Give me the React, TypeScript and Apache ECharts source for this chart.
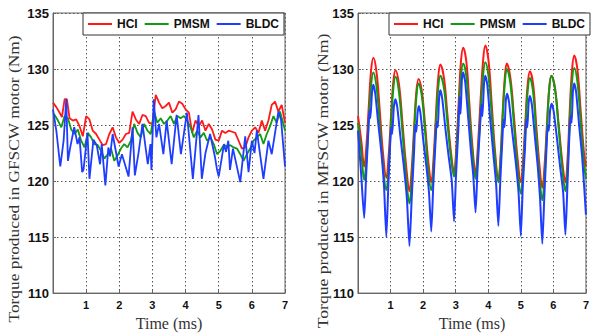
import React, { useEffect, useRef } from "react";
import * as echarts from "echarts";

// ---------- data (time in ms, torque in Nm) ----------
const seriesNames = ["HCI", "PMSM", "BLDC"];
const seriesColors = ["#ff1a1a", "#139a13", "#1f3dff"];
const yTicks = { min: 110, max: 135, step: 5 };
const xTicks = { min: 0, max: 7, step: 1 };
const leftTitle = "Torque produced in GFSCW motor (Nm)";
const rightTitle = "Torque produced in MFSCW motor (Nm)";
const xTitle = "Time (ms)";

const gfscwHCI: number[][] = [
  [0, 127.0], [0.1, 126.6], [0.2, 126.1], [0.27, 125.7], [0.35, 127.3], [0.42, 127.3], [0.5, 125.6],
  [0.6, 125.4], [0.7, 125.5], [0.8, 124.9], [0.9, 124.0], [1.0, 125.8], [1.1, 125.5], [1.2, 124.5],
  [1.3, 124.2], [1.4, 123.7], [1.5, 123.2], [1.6, 123.3], [1.7, 124.2], [1.8, 124.8], [1.9, 123.9],
  [2.0, 123.4], [2.1, 123.7], [2.2, 124.2], [2.3, 124.3], [2.4, 126.2], [2.5, 125.5], [2.6, 125.1],
  [2.7, 125.9], [2.8, 125.8], [2.9, 125.2], [3.0, 125.1], [3.1, 127.7], [3.2, 127.0], [3.3, 126.5],
  [3.4, 126.7], [3.5, 127.0], [3.6, 126.1], [3.7, 126.4], [3.8, 127.1], [3.9, 126.9], [4.0, 126.4],
  [4.1, 126.1], [4.2, 124.3], [4.3, 125.4], [4.4, 124.9], [4.5, 125.4], [4.6, 124.5], [4.7, 125.1],
  [4.8, 124.6], [4.9, 123.7], [5.0, 123.6], [5.1, 124.5], [5.2, 124.3], [5.3, 124.5], [5.4, 124.4],
  [5.5, 124.3], [5.6, 123.6], [5.7, 122.9], [5.8, 123.0], [5.9, 123.9], [6.0, 124.5], [6.1, 124.8],
  [6.2, 124.3], [6.3, 125.4], [6.4, 124.5], [6.5, 125.4], [6.6, 126.8], [6.7, 127.1], [6.8, 126.2],
  [6.9, 126.8], [7.0, 125.2],
];

const gfscwPMSM: number[][] = [
  [0, 126.0], [0.05, 125.9], [0.15, 125.4], [0.25, 124.8], [0.35, 125.8], [0.45, 125.6], [0.55, 124.6],
  [0.65, 124.2], [0.75, 124.6], [0.85, 123.6], [0.95, 123.0], [1.05, 124.3], [1.15, 123.9], [1.25, 123.3],
  [1.35, 123.2], [1.45, 122.7], [1.55, 122.0], [1.65, 122.4], [1.75, 122.9], [1.85, 121.8], [1.95, 122.3],
  [2.05, 122.9], [2.15, 123.3], [2.25, 123.0], [2.35, 123.6], [2.45, 125.1], [2.55, 124.3], [2.65, 123.9],
  [2.75, 125.1], [2.85, 124.5], [2.95, 124.2], [3.05, 126.2], [3.15, 125.2], [3.25, 125.6], [3.35, 125.1],
  [3.45, 125.4], [3.55, 125.8], [3.65, 125.1], [3.75, 125.8], [3.85, 125.6], [3.95, 125.8], [4.05, 125.4],
  [4.15, 124.8], [4.25, 123.9], [4.35, 124.5], [4.45, 123.9], [4.55, 124.3], [4.65, 123.6], [4.75, 123.9],
  [4.85, 123.3], [4.95, 122.4], [5.05, 122.7], [5.15, 123.2], [5.25, 123.1], [5.35, 123.2], [5.45, 123.0],
  [5.55, 122.9], [5.65, 122.4], [5.75, 121.8], [5.85, 122.4], [5.95, 122.9], [6.05, 123.6], [6.15, 123.9],
  [6.25, 124.2], [6.35, 123.3], [6.45, 124.2], [6.55, 124.9], [6.65, 125.8], [6.75, 125.2], [6.85, 126.2],
  [6.95, 125.1], [7.0, 124.5],
];

const gfscwBLDC: number[][] = [
  [0, 126.4], [0.1, 124.5], [0.22, 121.3], [0.32, 123.6], [0.4, 127.3], [0.45, 121.8], [0.52, 123.0],
  [0.64, 124.8], [0.74, 123.3], [0.8, 123.9], [0.88, 120.8], [0.92, 121.0], [1.04, 124.3], [1.1, 120.2],
  [1.22, 123.7], [1.32, 123.2], [1.42, 121.5], [1.47, 123.3], [1.58, 119.6], [1.67, 123.0], [1.72, 122.2],
  [1.8, 124.2], [1.98, 121.3], [2.08, 122.4], [2.28, 120.4], [2.4, 124.8], [2.47, 120.5], [2.58, 122.5],
  [2.7, 125.1], [2.86, 121.5], [2.94, 123.3], [2.97, 121.0], [3.04, 127.3], [3.12, 123.9], [3.2, 125.1],
  [3.33, 122.4], [3.43, 125.4], [3.58, 121.5], [3.73, 125.9], [3.86, 122.4], [4.04, 126.1], [4.22, 120.2],
  [4.39, 125.9], [4.49, 120.2], [4.6, 122.5], [4.74, 124.2], [4.89, 122.1], [4.95, 121.0], [5.0, 120.4],
  [5.16, 123.3], [5.22, 122.6], [5.29, 123.6], [5.34, 121.0], [5.43, 122.9], [5.65, 119.9], [5.8, 124.0],
  [5.9, 120.8], [6.0, 123.6], [6.08, 122.5], [6.15, 124.5], [6.35, 120.2], [6.5, 123.6], [6.6, 122.4],
  [6.8, 126.2], [6.88, 125.5], [7.0, 121.3],
];

const mfscwHCI: number[][] = [
  [0, 125.8], [0.1, 123.6], [0.19, 121.3], [0.26, 123.2], [0.33, 126.6], [0.4, 129.8], [0.47, 131.0],
  [0.57, 129.7], [0.67, 126.2], [0.77, 122.4], [0.87, 120.3], [0.94, 122.2], [1.01, 125.6], [1.08, 128.7],
  [1.15, 129.9], [1.26, 128.6], [1.37, 125.0], [1.48, 121.3], [1.58, 119.1], [1.65, 121.1], [1.72, 124.6],
  [1.79, 127.9], [1.86, 129.1], [1.96, 128.0], [2.06, 125.0], [2.16, 121.7], [2.25, 119.9], [2.32, 122.0],
  [2.39, 125.7], [2.46, 129.1], [2.53, 130.4], [2.64, 129.2], [2.74, 126.1], [2.85, 122.7], [2.95, 120.8],
  [3.02, 123.0], [3.09, 126.9], [3.16, 130.6], [3.23, 131.9], [3.33, 130.6], [3.42, 126.9], [3.52, 122.9],
  [3.61, 120.7], [3.68, 123.0], [3.76, 127.0], [3.84, 130.7], [3.91, 132.1], [4.01, 130.7], [4.11, 126.7],
  [4.21, 122.6], [4.31, 120.2], [4.38, 122.3], [4.44, 125.9], [4.51, 129.3], [4.57, 130.5], [4.68, 129.2],
  [4.79, 125.7], [4.9, 122.0], [5.0, 119.9], [5.07, 121.9], [5.14, 125.3], [5.21, 128.6], [5.28, 129.8],
  [5.38, 128.6], [5.47, 125.1], [5.57, 121.5], [5.66, 119.4], [5.73, 121.4], [5.8, 124.9], [5.87, 128.2],
  [5.94, 129.4], [6.05, 128.3], [6.16, 125.1], [6.27, 121.8], [6.37, 119.9], [6.44, 122.2], [6.5, 126.1],
  [6.57, 129.8], [6.64, 131.2], [6.74, 129.9], [6.84, 126.2], [6.94, 122.5], [7.0, 121.3],
];

const mfscwPMSM: number[][] = [
  [0, 125.2], [0.1, 122.6], [0.19, 120.1], [0.26, 122.0], [0.33, 125.4], [0.4, 128.5], [0.47, 129.7],
  [0.57, 128.4], [0.67, 125.0], [0.77, 121.3], [0.87, 119.2], [0.94, 121.2], [1.01, 124.8], [1.08, 128.1],
  [1.15, 129.3], [1.26, 127.9], [1.37, 124.2], [1.48, 120.3], [1.58, 118.0], [1.65, 120.1], [1.72, 123.9],
  [1.79, 127.4], [1.86, 128.7], [1.96, 127.6], [2.06, 124.4], [2.16, 120.8], [2.25, 119.2], [2.32, 121.2],
  [2.39, 124.8], [2.46, 128.2], [2.53, 129.4], [2.64, 128.3], [2.74, 125.4], [2.85, 122.2], [2.95, 120.4],
  [3.02, 122.4], [3.09, 126.0], [3.16, 129.3], [3.23, 130.5], [3.33, 129.3], [3.42, 125.9], [3.52, 122.3],
  [3.61, 120.2], [3.68, 122.3], [3.76, 125.9], [3.84, 129.4], [3.91, 130.6], [4.01, 129.3], [4.11, 125.8],
  [4.21, 122.0], [4.31, 119.9], [4.38, 121.9], [4.44, 125.5], [4.51, 128.8], [4.57, 130.0], [4.68, 128.7],
  [4.79, 125.0], [4.9, 121.1], [5.0, 118.9], [5.07, 121.0], [5.14, 124.6], [5.21, 128.0], [5.28, 129.2],
  [5.38, 127.9], [5.47, 124.3], [5.57, 120.5], [5.66, 118.3], [5.73, 120.5], [5.8, 124.4], [5.87, 128.1],
  [5.94, 129.4], [6.05, 128.2], [6.16, 124.8], [6.27, 121.2], [6.37, 119.1], [6.44, 121.3], [6.5, 125.2],
  [6.57, 128.8], [6.64, 130.1], [6.74, 128.8], [6.84, 125.2], [6.94, 121.6], [7.0, 120.2],
];

const mfscwBLDC: number[][] = [
  [0, 124.5], [0.1, 120.5], [0.19, 116.7], [0.25, 120.5], [0.31, 124.0], [0.35, 126.3], [0.38, 125.6],
  [0.43, 127.9], [0.47, 128.6], [0.53, 127.8], [0.62, 125.2], [0.72, 122.5], [0.8, 119.5], [0.87, 115.0],
  [0.93, 119.5], [0.99, 123.5], [1.02, 124.8], [1.05, 124.2], [1.1, 126.6], [1.15, 127.3], [1.21, 126.5],
  [1.3, 124.0], [1.4, 121.5], [1.5, 118.5], [1.58, 114.2], [1.65, 118.5], [1.72, 122.5], [1.76, 125.0],
  [1.79, 124.4], [1.83, 126.1], [1.87, 126.7], [1.92, 126.0], [2.01, 123.5], [2.1, 121.3], [2.18, 119.0],
  [2.25, 115.5], [2.31, 119.5], [2.38, 123.5], [2.42, 125.3], [2.45, 124.8], [2.49, 127.4], [2.53, 128.1],
  [2.59, 127.3], [2.68, 124.8], [2.78, 122.3], [2.88, 120.0], [2.95, 116.4], [3.01, 120.5], [3.08, 124.5],
  [3.12, 127.5], [3.15, 126.0], [3.19, 129.0], [3.23, 129.7], [3.29, 128.9], [3.38, 125.8], [3.47, 122.6],
  [3.54, 120.5], [3.61, 117.2], [3.67, 121.0], [3.75, 125.0], [3.79, 126.8], [3.82, 125.8], [3.87, 128.7],
  [3.91, 129.4], [3.97, 128.6], [4.06, 125.5], [4.16, 122.3], [4.24, 119.8], [4.31, 116.0], [4.37, 120.0],
  [4.43, 123.5], [4.47, 125.5], [4.5, 124.8], [4.54, 127.2], [4.58, 127.8], [4.64, 127.0], [4.74, 124.3],
  [4.84, 121.8], [4.93, 119.0], [5.0, 115.1], [5.06, 119.5], [5.13, 123.0], [5.17, 125.5], [5.2, 124.8],
  [5.24, 127.0], [5.28, 127.6], [5.34, 126.8], [5.43, 124.0], [5.52, 121.3], [5.59, 118.5], [5.66, 114.4],
  [5.72, 118.5], [5.79, 123.0], [5.83, 125.0], [5.86, 124.5], [5.9, 126.3], [5.95, 126.9], [6.01, 126.2],
  [6.11, 123.8], [6.21, 121.2], [6.3, 119.0], [6.37, 115.2], [6.43, 119.5], [6.49, 124.0], [6.53, 125.8],
  [6.56, 125.2], [6.6, 128.0], [6.64, 128.7], [6.7, 127.9], [6.79, 125.0], [6.88, 122.3], [6.95, 119.3],
  [7.0, 117.0],
];

const leftData = [gfscwHCI, gfscwPMSM, gfscwBLDC];
const rightData = [mfscwHCI, mfscwPMSM, mfscwBLDC];

const SANS = "'Liberation Sans', Arial, sans-serif";
const SERIF = "'Liberation Serif', 'Times New Roman', serif";

function makeX(gridIndex: number) {
  return {
    type: "value",
    gridIndex,
    min: xTicks.min,
    max: xTicks.max,
    interval: xTicks.step,
    name: xTitle,
    nameLocation: "middle",
    nameGap: 18,
    nameTextStyle: { fontFamily: SERIF, fontSize: 16, color: "#333" },
    axisLine: { show: true, lineStyle: { color: "#666", width: 1 } },
    axisTick: { show: true, inside: true, length: 3, lineStyle: { color: "#666" } },
    axisLabel: {
      margin: 6,
      fontFamily: SANS,
      fontWeight: "bold",
      fontSize: 11,
      color: "#111",
      formatter: (v: number) => (v === 0 ? "" : String(v)),
    },
    splitLine: { show: true, lineStyle: { color: "#555", type: [1.5, 2.5], width: 1 } },
  };
}

function makeY(gridIndex: number) {
  return {
    type: "value",
    gridIndex,
    min: yTicks.min,
    max: yTicks.max,
    interval: yTicks.step,
    axisLine: { show: true, lineStyle: { color: "#666", width: 1 } },
    axisTick: { show: true, inside: true, length: 3, lineStyle: { color: "#666" } },
    axisLabel: { margin: 4, fontFamily: SANS, fontWeight: "bold", fontSize: 13, color: "#111" },
    splitLine: { show: true, lineStyle: { color: "#555", type: [1.5, 2.5], width: 1 } },
  };
}

function makeLegend(left: number) {
  return {
    left,
    top: 13,
    orient: "horizontal",
    data: seriesNames,
    icon: "rect",
    itemWidth: 24,
    itemHeight: 2,
    itemGap: 7,
    padding: [5, 5],
    borderColor: "#333",
    borderWidth: 1,
    backgroundColor: "#fff",
    selectedMode: false,
    textStyle: { fontFamily: SANS, fontWeight: "bold", fontSize: 12, color: "#111", lineHeight: 12 },
  };
}

function yTitle(text: string, x: number, y: number, stretch: number) {
  return {
    type: "text",
    x,
    y,
    rotation: Math.PI / 2,
    scaleX: stretch,
    silent: true,
    style: {
      text,
      fontFamily: SERIF,
      fontSize: 14,
      fill: "#333",
      align: "center",
      verticalAlign: "middle",
    },
  };
}

export default function App() {
  const ref = useRef<HTMLDivElement>(null);
  useEffect(() => {
    if (!ref.current) return;
    const chart = echarts.init(ref.current, null, { renderer: "svg" });
    const series: any[] = [];
    leftData.forEach((d, i) =>
      series.push({
        type: "line",
        name: seriesNames[i],
        xAxisIndex: 0,
        yAxisIndex: 0,
        data: d,
        symbol: "none",
        lineStyle: { color: seriesColors[i], width: 1.8 },
        itemStyle: { color: seriesColors[i] },
        z: 2 + i,
      })
    );
    rightData.forEach((d, i) =>
      series.push({
        type: "line",
        name: seriesNames[i],
        xAxisIndex: 1,
        yAxisIndex: 1,
        data: d,
        symbol: "none",
        smooth: i === 2 ? 0.2 : 0.4,
        lineStyle: { color: seriesColors[i], width: 2 },
        itemStyle: { color: seriesColors[i] },
        z: 2 + i,
      })
    );
    chart.setOption({
      animation: false,
      backgroundColor: "#fff",
      grid: [
        { left: 53, top: 13, width: 232, height: 285, show: true, borderColor: "#666", borderWidth: 1, backgroundColor: "transparent" },
        { left: 358, top: 13, width: 232, height: 285, show: true, borderColor: "#666", borderWidth: 1, backgroundColor: "transparent" },
      ],
      xAxis: [makeX(0), makeX(1)],
      yAxis: [makeY(0), makeY(1)],
      legend: [makeLegend(83), makeLegend(389)],
      graphic: [yTitle(leftTitle, 14, 179, 1.24), yTitle(rightTitle, 323, 181, 1.26)],
      series,
    });
    return () => chart.dispose();
  }, []);
  return (
    <div
      ref={ref}
      style={{ position: "fixed", left: 0, top: 0, width: 592, height: 336, background: "#fff" }}
    />
  );
}
